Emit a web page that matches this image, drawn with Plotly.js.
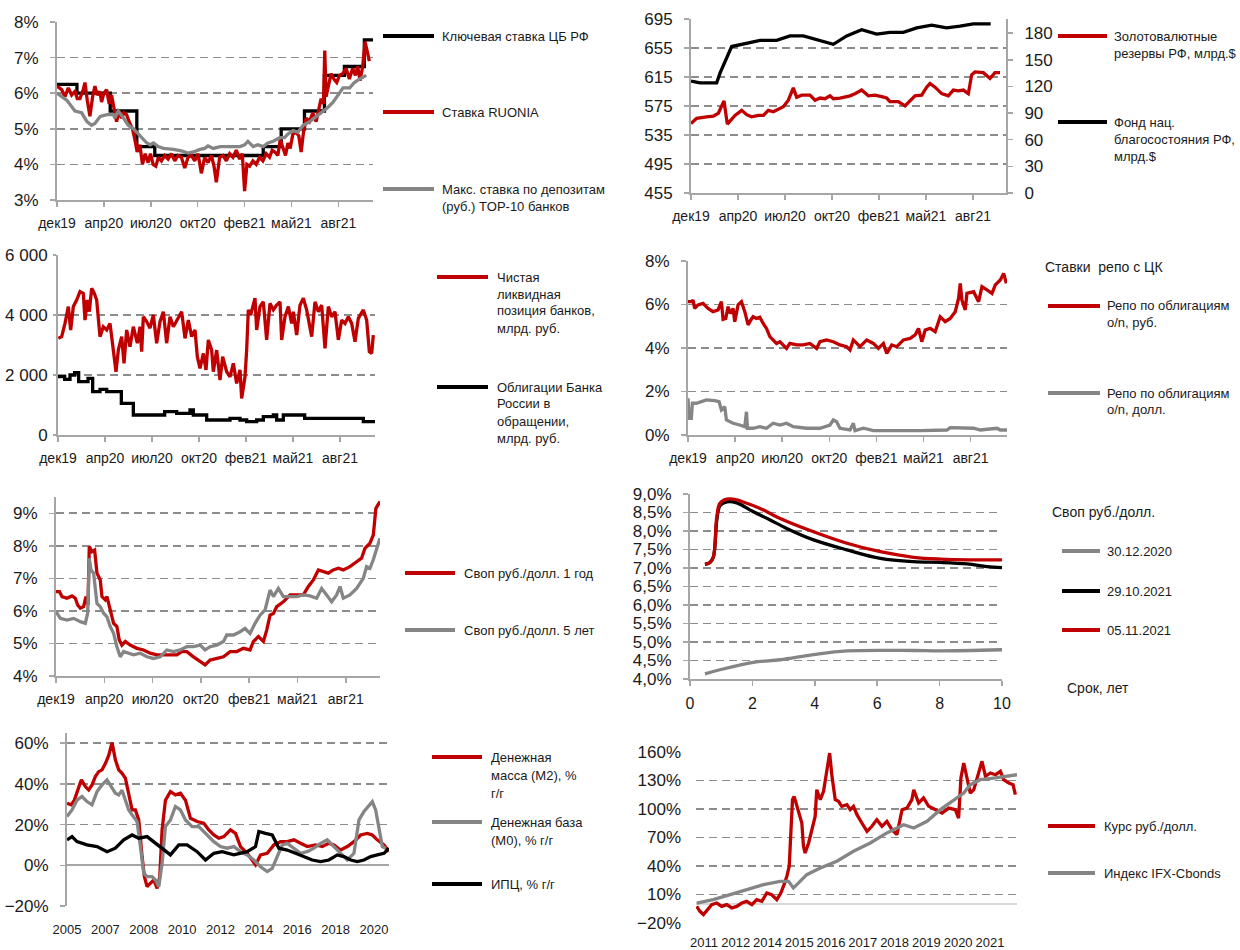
<!DOCTYPE html>
<html><head><meta charset="utf-8">
<script src="https://cdn.plot.ly/plotly-3.0.1.min.js"></script>
<style>html,body{margin:0;padding:0;background:#fff}</style>
</head><body><div id="chart" style="width:1240px;height:950px"></div>
<script>
// ---------- tick labels ----------
const timeTickPos = [0,70.5,141,211.5,282,352.5,423];
const timeTickText = ['дек19','апр20','июл20','окт20','фев21','май21','авг21'];
const m2TickPos = [0,23,46,69,92,115,138,161,184];
const m2TickText = ['2005','2007','2008','2010','2012','2014','2016','2018','2020'];
const fxTickPos = [3.1,16.7,30.3,43.9,57.5,71.1,84.7,98.3,111.9,125.5];
const fxTickText = ['2011','2012','2014','2015','2016','2017','2018','2019','2020','2021'];

// ---------- panel 1: rates ----------
const keyX = [0,30,80,120,147,310,337,372,402,432,462,475];
const keyY = [6.25,6.0,5.5,4.5,4.25,4.5,5.0,5.5,6.5,6.75,7.5,7.5];
const ruoniaX = [0,7,12,17,22,27,30.5,34.5,39.5,42,45.5,49.5,53.5,57,60.5,64.5,67,70.5,74.5,78.5,82,85.5,89.5,93.5,97,100.5,104.5,109.5,113.5,117,120.5,124.5,128.5,132.5,137,140.5,144.5,148.5,152.5,157,162,167,172,177,182,187,192,197,202,207,212,217,222,227,232,236,239.5,244.5,249.5,254.5,259.5,264.5,269.5,274.5,278.5,282,285.5,289.5,294.5,299.5,304.5,309.5,314.5,319.5,323.5,327.5,332,335.5,339.5,343.5,347,350.5,354.5,359.5,363.5,367,370.5,374.5,379.5,384.5,389.5,393.5,397,400.5,402.5,404.5,408.5,412,416,420.5,424.5,429.5,434.5,439.5,444.5,448.5,452,455.5,459.5,463,466,469.5];
const ruoniaY = [6.2,6.1,5.9,6.15,5.95,6.05,5.85,5.85,6.1,6.3,5.8,5.35,5.9,6.2,5.95,6.05,5.75,6.0,6.1,5.7,5.95,5.55,5.2,5.5,5.3,5.45,5.4,5.15,5.0,4.7,4.35,4.55,4.0,4.3,4.05,4.3,4.0,3.95,4.2,4.1,4.25,4.15,4.3,4.1,4.25,4.2,3.9,4.2,4.25,4.1,4.3,3.75,4.2,4.05,4.25,3.95,3.5,4.2,4.25,4.1,4.3,4.2,4.4,4.15,4.3,3.25,4.0,3.95,4.1,4.0,4.2,4.1,4.3,4.2,4.4,4.35,4.25,4.7,4.5,4.25,4.6,4.45,4.85,4.9,4.8,4.35,4.9,5.3,5.2,5.45,5.2,5.6,5.85,5.7,7.2,5.9,6.3,6.55,6.4,6.3,6.5,6.55,6.7,6.4,6.7,6.5,6.75,6.35,6.75,7.45,7.2,6.9];
const depX = [0,15,27,37,45,52,57,65,75,85,87,92,100,107,115,125,135,140,145,152,160,175,187,197,205,215,222,227,235,245,260,275,282,287,295,302,310,317,325,335,342,347,355,362,370,380,390,400,407,415,422,430,440,447,455,465];
const depY = [6.0,5.8,5.5,5.45,5.2,5.1,5.15,5.35,5.4,5.4,5.3,5.5,5.3,5.1,5.0,4.8,4.6,4.55,4.6,4.5,4.45,4.42,4.38,4.32,4.35,4.42,4.45,4.52,4.45,4.5,4.5,4.5,4.55,4.65,4.5,4.55,4.5,4.6,4.65,4.75,4.75,4.85,4.95,4.9,5.1,5.2,5.35,5.5,5.6,5.75,5.95,6.15,6.15,6.3,6.4,6.5];

// ---------- panel 2: reserves / NWF ----------
const resX = [0,8.5,23.5,33.5,41,46,49.5,54.5,61,66,76,83.5,91,101,108.5,116,123.5,138.5,146,153.5,158.5,166,178.5,186,193.5,201,208.5,213.5,223.5,238.5,246,256,266,276,286,293.5,298.5,311,321,328.5,336,346,353.5,358.5,366,376,386,393.5,401,408.5,416,421,426,438.5,448.5,456,463.5];
const resY = [551,558,560,561,565,575,582,550,556,562,569,563,560,562,562,569,567,574,583,600,587,590,590,583,586,585,589,585,586,589,592,597,589,590,588,586,581,581,575,582,589,590,601,606,601,592,589,597,596,597,592,618,622,621,613,621,621];
const nwfX = [0,13.5,38.5,43.5,61,83.5,103.5,128.5,148.5,168.5,193.5,213.5,233.5,256,278.5,298.5,318.5,338.5,361,383.5,403.5,423.5,449.5];
const nwfY = [126,124,124,135,165,169,172,172,177,177,172,167.5,177,184,179,181,181,186,189,186,188,190.5,190.5];

// ---------- panel 3: liquidity / CBR bonds ----------
const liqX = [0.5,5.5,10.5,15.5,19,23,28,33,38,40.5,44,47,50.5,54.5,58,61.5,63,68,73,78,83,87,90.5,95.5,99,103,108,113,119,123,125.5,128,133,138,143,148,153,158,163,168,173,180.5,185.5,190.5,195.5,200.5,205.5,209,213,218,222,225.5,230.5,233,238,243,247,253,258,263,268,273,275.5,280.5,283,285.5,289,295.5,298,303,308,313,318,323,328,333,335.5,340.5,345.5,350.5,353,358,363,368,373,380.5,385.5,390.5,395.5,400.5,405.5,410.5,415.5,420.5,425.5,430.5,435.5,440.5,445.5,450.5,458,463,467,470.5,473];
const liqY = [3222,3280,3720,4280,3500,4280,4500,4780,4720,3830,4500,4110,4890,4720,4500,3610,3280,3610,3500,3720,2720,2110,2830,3280,2390,3500,2940,3610,3060,3610,2780,3940,3780,3560,4000,3060,3780,4110,3060,3940,3610,3940,4110,3220,3830,3280,3500,2610,2220,2720,2170,3170,2830,2110,2830,1830,2610,2110,1940,2390,1720,2170,1220,1940,2830,4170,4000,4560,3500,4280,4440,3170,4390,4170,4330,4440,3170,3940,4280,3720,4110,3330,4330,4560,4170,3280,4440,4110,4330,2890,4280,3940,4110,3170,3830,3720,3940,3720,3110,3890,4170,3830,2780,2720,3330];
const bondsX = [0,10,18,25,31,45,52,63,73,95,113,160,178,198,203,223,258,273,283,298,308,323,328,338,370,458,475.5];
const bondsY = [1944,1855,2000,2078,1778,1889,1444,1522,1444,1055,667,778,722,833,667,500,556,500,444,500,611,667,500,667,556,444,444];

// ---------- panel 4: repo ----------
const repoRubX = [0,5,7.5,10,15,22.5,30,37.5,45,50,52.5,56.5,60,63.5,67.5,70,75,80,85,90,94,97.5,102.5,107.5,112.5,117.5,122.5,127.5,132.5,137.5,142.5,147.5,152.5,162.5,172.5,182.5,192.5,197.5,207.5,217.5,227.5,237.5,242.5,247.5,257.5,267.5,277.5,285,292.5,297.5,305,312.5,322.5,332.5,340,345,350,355,362.5,370,377.5,385,392.5,400,405,407.5,410,415,417.5,427.5,435,440,447.5,455,460,467.5,472.5,476.5];
const repoRubY = [6.13,6.13,6.2,5.82,5.98,6.05,5.82,5.67,5.75,6.13,5.32,5.36,5.9,5.59,5.82,5.21,5.98,6.13,5.67,5.06,5.29,5.44,5.36,5.41,5.13,4.9,4.52,4.37,4.21,4.29,4.14,3.98,4.21,4.14,4.14,4.21,3.98,4.29,4.37,4.29,4.14,4.06,3.91,4.37,4.06,4.37,4.21,3.98,4.21,3.75,4.14,4.06,4.37,4.44,4.6,4.9,4.29,4.83,4.9,4.75,5.44,5.21,5.36,5.67,6.28,6.97,6.2,5.75,6.51,6.59,6.13,6.82,6.67,6.51,6.9,7.13,7.43,6.97];
const repoUsdX = [0,1.5,5,6.5,12.5,27.5,40,46.5,50,55,57.5,67.5,77.5,85,87.5,89,97.5,107.5,117.5,127.5,137.5,147.5,157.5,177.5,197.5,212.5,217.5,222.5,227.5,242.5,247.5,250,262.5,277.5,347.5,387.5,392.5,427.5,437.5,462.5,467.5,477.5];
const repoUsdY = [1.69,0.77,0.77,1.46,1.46,1.61,1.58,1.53,1.15,1.3,0.69,0.54,0.46,0.38,1.07,0.31,0.31,0.38,0.31,0.54,0.46,0.54,0.38,0.31,0.31,0.46,0.69,0.61,0.31,0.23,0.54,0.2,0.31,0.2,0.2,0.23,0.34,0.31,0.23,0.31,0.23,0.23];

// ---------- panel 5: swaps ----------
const swap1X = [0,5.3,8.7,16,23.3,28.2,31.6,35.5,40.3,43.7,46.7,48.6,52.5,56.4,59.8,64.6,67.1,71.9,74.4,79.2,84.1,88.9,92.3,96.2,101.1,108.4,118.1,127.8,137.5,147.3,157,166.7,176.4,183.7,191,200.7,210.4,217.7,225,234.7,244.5,254.2,263.9,273.6,283.3,288.2,295.5,302.8,307.6,312.5,317.4,322.2,331.9,341.7,351.4,361.1,368.4,375.7,383,390.3,397.5,404.8,412.1,419.4,429.1,438.9,446.1,451,458.3,463.2,467,472.9];
const swap1Y = [6.59,6.59,6.44,6.39,6.46,6.39,6.18,6.08,6.13,6.44,6.18,7.98,7.82,7.87,7.16,6.95,6.44,6.34,6.44,6.03,5.62,5.52,5.11,4.95,5.06,4.95,4.85,4.8,4.7,4.65,4.65,4.65,4.65,4.75,4.75,4.59,4.44,4.34,4.49,4.54,4.59,4.75,4.75,4.85,4.8,5.06,5.21,5.06,5.41,5.87,5.92,6.13,6.28,6.49,6.49,6.49,6.75,6.95,7.26,7.21,7.16,7.26,7.31,7.26,7.36,7.51,7.62,7.92,8.08,8.33,9.15,9.36];
const swap5X = [0,6.3,16,25.8,35.5,42.8,46.2,48.6,51,54.9,59.8,64.6,69.5,74.4,79.2,84.1,88.9,93.8,98.7,105.9,113.2,123,132.7,142.4,152.1,161.8,171.6,181.3,191,200.7,210.4,217.7,225,234.7,244.5,249.3,259,268.8,276,283.3,290.6,297.9,305.2,312.5,317.4,324.6,331.9,341.7,351.4,361.1,370.8,380.5,387.8,395.1,402.4,409.7,414.6,419.4,429.1,438.9,448.6,453.4,458.3,463.2,468,472.9];
const swap5Y = [5.98,5.77,5.72,5.77,5.67,5.62,5.93,7.62,7.26,7.16,6.23,6.13,5.93,5.82,5.52,5.31,4.9,4.59,4.75,4.7,4.65,4.7,4.59,4.54,4.59,4.8,4.75,4.8,4.9,4.9,4.95,4.8,4.9,4.95,5.06,5.26,5.26,5.36,5.46,5.31,5.62,5.87,6.03,6.64,6.44,6.69,6.44,6.44,6.44,6.49,6.46,6.39,6.69,6.49,6.28,6.49,6.75,6.39,6.49,6.69,7.0,7.36,7.31,7.57,7.87,8.23];

// ---------- panel 6: swap curves ----------
const curveNovX = [0.48,0.64,0.75,0.86,0.96,1.18,1.39,1.82,2.25,2.89,3.96,5.03,6.1,7.17,8.02,8.98,10];
const curveNovY = [7.1,7.15,7.3,8.39,8.75,8.86,8.86,8.75,8.61,8.34,7.98,7.67,7.44,7.29,7.24,7.22,7.22];
const curveOctX = [0.48,0.64,0.75,0.86,0.96,1.18,1.5,2.03,2.57,3.10,3.96,5.03,6.1,7.17,8.02,8.88,9.52,10];
const curveOctY = [7.1,7.15,7.3,8.3,8.68,8.79,8.76,8.52,8.3,8.07,7.76,7.49,7.26,7.17,7.15,7.11,7.04,7.01];
const curveDecX = [0.48,0.96,2.03,2.89,3.96,5.03,7.17,8.02,10];
const curveDecY = [4.14,4.25,4.45,4.52,4.66,4.76,4.77,4.76,4.79];

// ---------- panel 7: money ----------
const m2X = [0,2.4,4.4,7,8.6,11,13,15,17,19,21,23,25,27,29,31,33,35,37,39,41,43,45,46.4,48,50,52,54,55.6,57,59,62,65,68,71,74,78,82,85,88,91,94,98,101,104,108,111,113,116,120,124,128,132,136,140,144,149,153,157,160,164,168,172,176,180,183,186,190,193];
const m2Y = [30.5,29.7,32,38.7,42,38.7,37,39.5,43.6,46,46.9,50,54,60.3,51.8,46.9,45.2,42.8,35.4,27.2,27.2,22.3,4.3,-5.6,-10.5,-8.9,-7.2,-11.3,-5.6,17.4,32,36.2,34.6,35.4,32,23.1,21.5,20.7,17.4,14.9,13.3,14.1,17.4,15.7,9.2,5.9,2.6,0.2,5.1,5.9,10,11.6,11.6,12.5,10.8,9.2,10,9.2,10.8,10,7.5,9.2,11.6,14.9,15.7,14.9,12.5,10,6.7];
const m0X = [0,3,6,9,12,15,18,21,24,27,29,31,33,35,37,39,42,44,46,48,51,53,55,57,59,62,65,68,71,75,79,84,88,92,96,100,104,108,112,116,120,123,126,129,132,136,140,144,148,152,156,160,164,168,172,175,178,181,183,185,187,189,191];
const m0Y = [24,27.2,32,33.8,31.3,29.7,36.2,39.5,42,37.9,35.4,34.6,36.9,32,27.2,24.8,21.5,9.2,-3.9,-5.6,-5.6,-7.2,-10.5,1,19,22.3,28.9,27.2,22.3,19,19,14.9,11.6,9.2,8.4,9.2,6.7,5.1,2.6,-0.7,-3.1,-1.5,4.3,10,10.8,8.4,5.9,6.7,8.4,10.8,12.5,9.2,5.9,2.6,5.9,22.3,26.4,29.7,31.3,27.2,17.4,9.2,8.4];
const cpiX = [0,3,6,12,18,24,29,34,39,43,48,52,58,62,67,72,78,83,88,93,100,108,113,115,119,123,127,132,137,142,147,152,157,162,166,170,174,178,182,186,190,193];
const cpiY = [12.5,14.1,11.6,10,9.2,6.7,8.4,12.5,14.9,13.3,14.1,11.6,7.5,5.1,10,10,6.7,2.6,5.9,6.7,5.1,6.7,9.2,16.6,15.7,14.9,8.4,7.5,5.9,4.3,2.6,1.8,2.6,5.1,4.3,2.6,1.8,2.6,4.3,5.1,5.9,8.4];

// ---------- panel 8: FX / IFX ----------
const fxX = [0,1.4,2.9,4.6,6.4,8.6,10.7,12.9,15,17.1,19.3,21.4,23.6,25.7,27.9,30,32.1,34.3,36,37.4,38.6,39.6,40.3,41,41.7,42.9,43.6,45,45.7,46.4,47.9,49.3,50.7,51.4,52.9,54.3,55.7,56.9,57.9,59.3,60.7,62.1,64.3,65.7,67.1,68.6,70.7,72.9,75,77.1,79.3,81.4,83.6,85.7,87.9,90,92.1,92.9,95,97.1,99.3,102.1,105,107.9,110.7,112.1,113.1,114.3,115.7,117.1,118.6,120.7,122.1,123.6,125.7,127.9,130,131.4,133.6,135.4,136.4];
const fxY = [-2.5,-7.7,-11.2,-6,-0.7,1,-2.5,-0.7,-4.2,-2.5,1,2.8,-0.7,4.6,2.8,11.6,9.8,4.6,11.6,20.4,29.3,39.7,67.7,109.8,113.3,102.8,95.8,85.3,60.7,53.7,64.2,78.2,92.2,120.3,109.8,118.6,137.9,158.9,134.4,109.8,108.1,102.8,104.6,99.3,102.8,94,85.3,76.5,81.8,88.8,81.8,87,78.2,73,99.3,101,109.8,120.3,106.3,111.6,102.8,99.3,95.8,101,99.3,90.5,132.6,148.4,130.9,116.8,120.3,137.9,150.2,134.4,137.9,136.1,139.6,130.9,127.4,125.6,115.1];
const ifxX = [0,7.1,14.3,21.4,28.6,35.7,39.3,41.4,43.6,47.1,52.9,60,67.1,74.3,81.4,88.6,92.9,98.6,104.3,110,114.3,117.1,121.4,127.1,132.9,137.1];
const ifxY = [1,4.6,9.8,15.1,20.4,23.9,23.9,16.8,22.1,30.9,37.9,45,55.5,64.2,74.8,83.5,80,87,99.3,109.8,116.8,125.6,130.9,132.6,134.4,136.1];

// ---------- series names ----------
const names1 = ['Ключевая ставка ЦБ РФ','Ставка RUONIA',['Макс. ставка по депозитам','(руб.) TOP-10 банков']];
const names2 = [['Золотовалютные','резервы РФ, млрд.$'],['Фонд нац.','благосостояния РФ,','млрд.$']];
const names3 = [['Чистая','ликвидная','позиция банков,','млрд. руб.'],['Облигации Банка','России в','обращении,','млрд. руб.']];
const title4 = 'Ставки&nbsp; репо с ЦК';
const names4 = [['Репо по облигациям','o/n, руб.'],['Репо по облигациям','o/n, долл.']];
const names5 = ['Своп руб./долл. 1 год','Своп руб./долл. 5 лет'];
const title6 = 'Своп руб./долл.';
const names6 = ['30.12.2020','29.10.2021','05.11.2021'];
const xTitle6 = 'Срок, лет';
const names7 = [['Денежная','масса (M2), %','г/г'],['Денежная база','(M0), % г/г'],['ИПЦ, % г/г']];
const names8 = ['Курс руб./долл.','Индекс IFX-Cbonds'];

// ---------- styling ----------
const RED = '#C00000', BLACK = '#000000', GRAY = '#858585';
const FONT = 'Liberation Sans, Arial, sans-serif';
const TXT = '#1a1a1a';
const AXC = '#A6A6A6';
const W = 1240, H = 950;
const fx = p => p / W, fy = p => 1 - p / H;
const LW = 3.3;

function tr(x, y, color, xa, ya, shape) {
  return {type:'scatter', mode:'lines', x, y, xaxis:xa, yaxis:ya,
    line:{color, width:LW, shape:shape || 'linear'}, hoverinfo:'skip', showlegend:false};
}

const traces = [
  tr(keyX, keyY, BLACK, 'x', 'y', 'hv'),
  tr(ruoniaX, ruoniaY, RED, 'x', 'y'),
  tr(depX, depY, GRAY, 'x', 'y'),
  tr(resX, resY, RED, 'x2', 'y2'),
  tr(nwfX, nwfY, BLACK, 'x2', 'y9'),
  tr(liqX, liqY, RED, 'x3', 'y3'),
  tr(bondsX, bondsY, BLACK, 'x3', 'y3', 'hv'),
  tr(repoRubX, repoRubY, RED, 'x4', 'y4'),
  tr(repoUsdX, repoUsdY, GRAY, 'x4', 'y4'),
  tr(swap1X, swap1Y, RED, 'x5', 'y5'),
  tr(swap5X, swap5Y, GRAY, 'x5', 'y5'),
  tr(curveDecX, curveDecY, GRAY, 'x6', 'y6', 'spline'),
  tr(curveOctX, curveOctY, BLACK, 'x6', 'y6', 'spline'),
  tr(curveNovX, curveNovY, RED, 'x6', 'y6', 'spline'),
  tr(m2X, m2Y, RED, 'x7', 'y7'),
  tr(m0X, m0Y, GRAY, 'x7', 'y7'),
  tr(cpiX, cpiY, BLACK, 'x7', 'y7'),
  tr(fxX, fxY, RED, 'x8', 'y8'),
  tr(ifxX, ifxY, GRAY, 'x8', 'y8'),
];

function xAx(l, r, range, anchor, extra) {
  return Object.assign({domain:[fx(l), fx(r)], range, anchor, showline:true, linecolor:AXC, linewidth:2,
    ticks:'outside', ticklen:5, tickwidth:1.5, tickcolor:AXC, showgrid:false, zeroline:false,
    tickmode:'array', tickvals:timeTickPos, ticktext:timeTickText, ticklabelstandoff:4,
    tickfont:{family:FONT, size:14, color:TXT}, fixedrange:true}, extra || {});
}
function yAx(top, bottom, range, anchor, extra) {
  return Object.assign({domain:[fy(bottom), fy(top)], range, anchor, showline:true, linecolor:AXC, linewidth:2,
    ticks:'outside', ticklen:5, tickwidth:1.5, tickcolor:AXC, showgrid:true, gridcolor:'#8C8C8C', gridwidth:1.6,
    griddash:'8px,5px', zeroline:false, ticklabelstandoff:8, tickmode:'linear',
    tickfont:{family:FONT, size:17, color:TXT}, fixedrange:true}, extra || {});
}

const shapes = [], annotations = [];
function seg(x0, x1, y, color) {
  shapes.push({type:'line', xref:'paper', yref:'paper', x0:fx(x0), x1:fx(x1), y0:fy(y), y1:fy(y),
    line:{color, width:4}});
}
function txt(x, y, text, size) {
  annotations.push({xref:'paper', yref:'paper', x:fx(x), y:fy(y), xanchor:'left', yanchor:'middle',
    text, showarrow:false, font:{family:FONT, size:size || 13, color:TXT}});
}
function legend(sx0, sx1, tx, items, gap) {
  items.forEach(it => {
    seg(sx0, sx1, it.y, it.color);
    const lines = Array.isArray(it.name) ? it.name : [it.name];
    lines.forEach((ln, k) => txt(tx, it.y + k * gap, ln, 13));
  });
}

legend(383, 434, 440, [{y:36, color:BLACK, name:names1[0]}, {y:112, color:RED, name:names1[1]}, {y:189, color:GRAY, name:names1[2]}], 17);
legend(1058, 1107, 1112, [{y:36, color:RED, name:names2[0]}, {y:122, color:BLACK, name:names2[1]}], 17.5);
legend(437, 488, 495, [{y:277, color:RED, name:names3[0]}, {y:387, color:BLACK, name:names3[1]}], 17);
txt(1043, 267, title4, 14);
legend(1048, 1100, 1105, [{y:306, color:RED, name:names4[0]}, {y:393, color:GRAY, name:names4[1]}], 16.5);
legend(405, 455, 462, [{y:573, color:RED, name:names5[0]}, {y:630, color:GRAY, name:names5[1]}], 17);
txt(1050, 512, title6, 14);
legend(1062, 1100, 1105, [{y:551, color:GRAY, name:names6[0]}, {y:591, color:BLACK, name:names6[1]}, {y:630, color:RED, name:names6[2]}], 17);
txt(1065, 688, xTitle6, 14);
legend(432, 482, 489, [{y:757, color:RED, name:names7[0]}, {y:822, color:GRAY, name:names7[1]}, {y:884, color:BLACK, name:names7[2]}], 18);
legend(1048, 1095, 1102, [{y:826, color:RED, name:names8[0]}, {y:873, color:GRAY, name:names8[1]}], 17);

const layout = {
  width:W, height:H, margin:{l:0, r:0, t:0, b:0}, paper_bgcolor:'#fff', plot_bgcolor:'rgba(0,0,0,0)',
  separators:', ', showlegend:false, font:{family:FONT, color:TXT},
  xaxis: xAx(57, 373, [0, 475], 'y'),
  yaxis: yAx(22, 200, [3, 8], 'x', {dtick:1, tick0:3, ticksuffix:'%'}),
  xaxis2: xAx(691, 1006, [0, 472.5], 'y2'),
  yaxis2: yAx(19, 193, [455, 695], 'x2', {dtick:40, tick0:455}),
  yaxis9: yAx(19, 193, [0, 196], 'x2', {overlaying:'y2', side:'right', showgrid:false, dtick:30, tick0:0}),
  xaxis3: xAx(58, 375, [0, 475.5], 'y3'),
  yaxis3: yAx(255, 435, [0, 6000], 'x3', {dtick:2000, tick0:0, separatethousands:true, ticklen:3, ticklabelstandoff:2}),
  xaxis4: xAx(688, 1007, [0, 477.5], 'y4'),
  yaxis4: yAx(261, 435, [0, 8], 'x4', {dtick:2, tick0:0, ticksuffix:'%'}),
  xaxis5: xAx(56, 380, [0, 473], 'y5'),
  yaxis5: yAx(497, 676, [4, 9.5], 'x5', {dtick:1, tick0:4, ticksuffix:'%'}),
  xaxis6: xAx(690, 1002, [0, 10], 'y6', {tickmode:'linear', tick0:0, dtick:2, tickvals:null, ticktext:null, tickfont:{family:FONT, size:16, color:TXT}}),
  yaxis6: yAx(494, 679, [4, 9], 'x6', {dtick:0.5, tick0:4, tickformat:'.1f', ticksuffix:'%'}),
  xaxis7: xAx(67, 389, [0, 193], 'y7', {showline:false, ticks:'', tickvals:m2TickPos, ticktext:m2TickText, ticklabelstandoff:14, tickfont:{family:FONT, size:13, color:TXT}}),
  yaxis7: yAx(733, 906, [-20, 65], 'x7', {tick0:-20, dtick:20, ticksuffix:'%', zeroline:true, zerolinecolor:AXC, zerolinewidth:2}),
  xaxis8: xAx(696, 1017, [-0.3, 137.1], 'y8', {showline:false, ticks:'', tickvals:fxTickPos, ticktext:fxTickText, ticklabelstandoff:10, tickfont:{family:FONT, size:13, color:TXT}}),
  yaxis8: yAx(752, 923, [-20, 160], 'x8', {showline:false, ticks:'', tick0:-20, dtick:30, ticksuffix:'%', zeroline:true, zerolinecolor:'#D9D9D9', zerolinewidth:2, ticklabelstandoff:14}),
  shapes, annotations
};

Plotly.newPlot('chart', traces, layout, {staticPlot:true, displayModeBar:false});
</script></body></html>
